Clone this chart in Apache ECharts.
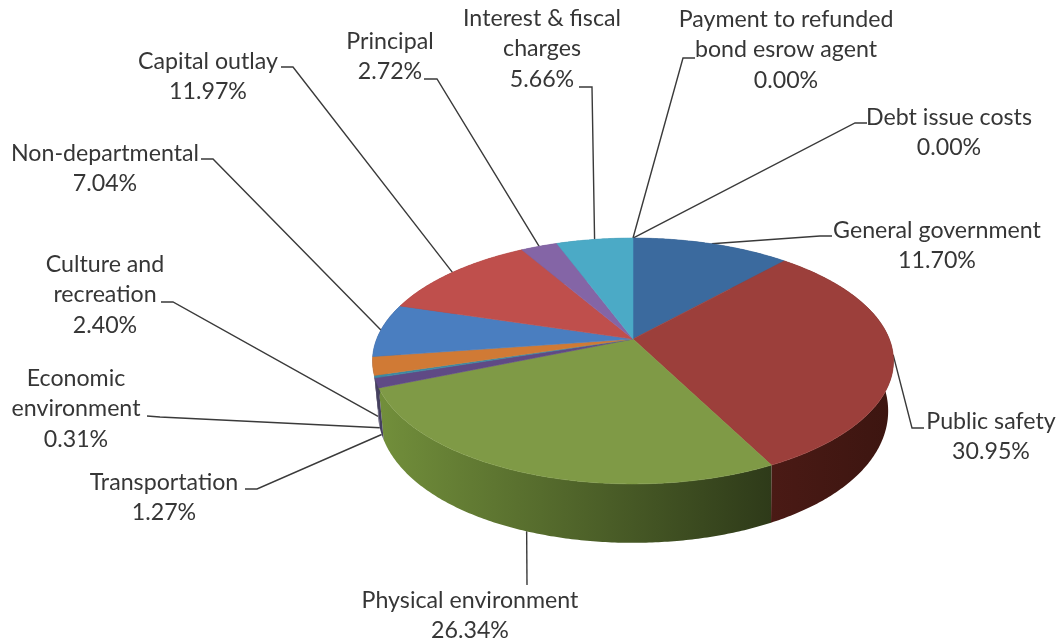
<!DOCTYPE html>
<html>
<head>
<meta charset="utf-8">
<title>Expenditures by function</title>
<style>html,body{margin:0;padding:0;background:#fff}#chart{width:1060px;height:642px}</style>
<script src="https://cdn.jsdelivr.net/npm/echarts@6/dist/echarts.min.js"></script>
</head>
<body>
<div id="chart"></div>
<script>
// Slices run clockwise from twelve o'clock.
const categories = [
  'General government', 'Public safety', 'Physical environment', 'Transportation',
  'Economic\nenvironment', 'Culture and\nrecreation', 'Non-departmental', 'Capital outlay',
  'Principal', 'Interest & fiscal\ncharges', 'Debt issue costs',
  'Payment to refunded\nbond esrow agent'
];
const shares = [11.70, 30.95, 26.34, 1.27, 0.31, 2.40, 7.04, 11.97, 2.72, 5.66, 0.00, 0.00];

const topColors = ['#3b6a9e', '#9c3f3b', '#7f9a46', '#5f4a85', '#3c8aa2', '#d07a35',
  '#4a7ec0', '#bf4f4c', '#8465a6', '#4baac6', '#4f81bd', '#c0504d'];
const wallColors = [
  ['#2a4a70', '#2a4a70'], ['#4a1a15', '#3c1510'], ['#728f3b', '#2e3a19'], ['#45405f', '#45405f'],
  ['#45405f', '#45405f'], ['#45405f', '#45405f'], ['#45405f', '#45405f'], ['#7f3532', '#7f3532'],
  ['#58456f', '#58456f'], ['#327486', '#327486'], ['#33577f', '#33577f'], ['#7f3532', '#7f3532']
];

// Pie projection: a tilted disc seen in perspective; the lower face pulls in a little at its far left and right.
const pie = { cx: 633, cy: 339, ax: 256.3, ay: 119, k: 0.1788, depth: 48.4, lowerInset: 5 };

// Where each label sits and how its leader bends: [text x, first line y, stub x, stub y, elbow x, elbow y].
const labelLayout = [
  [937, 230, 832, 236, 820, 236],
  [991, 421, 924, 428, 912, 428],
  [470, 600, 527, 585, 527, 585],
  [164, 482, 245, 489, 257, 489],
  [76, 378, 147, 416, 160, 417],
  [105, 264, 161, 302, 173, 302],
  [105, 153, 201, 159, 213, 159],
  [208, 61, 281, 67, 293, 67],
  [390, 41, 424, 79, 437, 79],
  [542, 18, 579, 87, 592, 87],
  [949, 117, 867, 123, 855, 123],
  [786, 19, 695, 58, 683, 58]
];
// Leaders of the front slices land on the lower rim of the wall.
const leaderOnLowerRim = [false, false, true, true, true, true, false, false, false, false, false, false];

const total = shares.reduce((a, b) => a + b, 0);
const spans = [];
shares.reduce((acc, v) => {
  spans.push([acc / total * 2 * Math.PI, (acc + v) / total * 2 * Math.PI]);
  return acc + v;
}, 0);

function rim(angle, lowered) {
  const X = Math.sin(angle), Y = Math.cos(angle), w = 1 + pie.k * Y;
  const dx = pie.ax * X / w;
  if (!lowered) return [pie.cx + dx, pie.cy - pie.ay * Y / w];
  const inset = Math.sign(dx) * pie.lowerInset * Math.pow(Math.abs(dx) / pie.ax, 4);
  return [pie.cx + dx - inset, pie.cy - pie.ay * Y / w + pie.depth / w];
}
function arc(a0, a1, lowered) {
  const n = Math.max(1, Math.ceil((a1 - a0) / 0.01));
  const pts = [];
  for (let i = 0; i <= n; i++) pts.push(rim(a0 + (a1 - a0) * i / n, lowered));
  return pts;
}

function renderLeader(params, api) {
  const i = api.value(1), l = labelLayout[i], s = spans[i];
  const anchor = rim((s[0] + s[1]) / 2, leaderOnLowerRim[i]);
  return {
    type: 'polyline',
    shape: { points: [[l[2], l[3]], [l[4], l[5]], anchor] },
    style: { stroke: '#3a3a3a', lineWidth: 1.4, fill: null }
  };
}
function renderWall(params, api) {
  const i = api.value(1), s = spans[i];
  if (s[1] - s[0] <= 0) return null;
  const pts = arc(s[0], s[1], false).concat(arc(s[0], s[1], true).reverse());
  const xs = pts.map(p => p[0]);
  const x0 = Math.min.apply(null, xs), x1 = Math.max.apply(null, xs);
  // Walls darken from the lit left side toward the right, so the colour stops follow x.
  const fill = new echarts.graphic.LinearGradient(x0, 0, x1, 0, [
    { offset: 0, color: wallColors[i][0] },
    { offset: 1, color: wallColors[i][1] }
  ], true);
  return {
    type: 'polygon',
    shape: { points: pts },
    style: { fill: fill }
  };
}
function renderFace(params, api) {
  const i = api.value(1), s = spans[i];
  if (s[1] - s[0] <= 0) return null;
  const pts = [[pie.cx, pie.cy]].concat(arc(s[0], s[1], false));
  return {
    type: 'polygon',
    shape: { points: pts },
    style: { fill: topColors[i], stroke: topColors[i], lineWidth: 0.6 }
  };
}
function renderLabel(params, api) {
  const i = api.value(1), l = labelLayout[i];
  return {
    type: 'text',
    style: {
      x: l[0],
      y: l[1] - 15,
      text: categories[i] + '\n' + api.value(0).toFixed(2) + '%',
      fill: '#363636',
      font: '23.2px Lato',
      lineHeight: 30.5,
      align: 'center',
      verticalAlign: 'top'
    }
  };
}

const rows = shares.map((v, i) => [v, i]);
const layer = (name, z, renderItem) => ({
  type: 'custom',
  name: name,
  coordinateSystem: 'none',
  z: z,
  silent: true,
  animation: false,
  clip: false,
  data: rows,
  renderItem: renderItem
});

const chart = echarts.init(document.getElementById('chart'), null, { renderer: 'canvas' });
chart.setOption({
  backgroundColor: '#ffffff',
  animation: false,
  series: [
    layer('leaders', 1, renderLeader),
    layer('walls', 2, renderWall),
    layer('faces', 3, renderFace),
    layer('labels', 4, renderLabel)
  ]
});
</script>
</body>
</html>
